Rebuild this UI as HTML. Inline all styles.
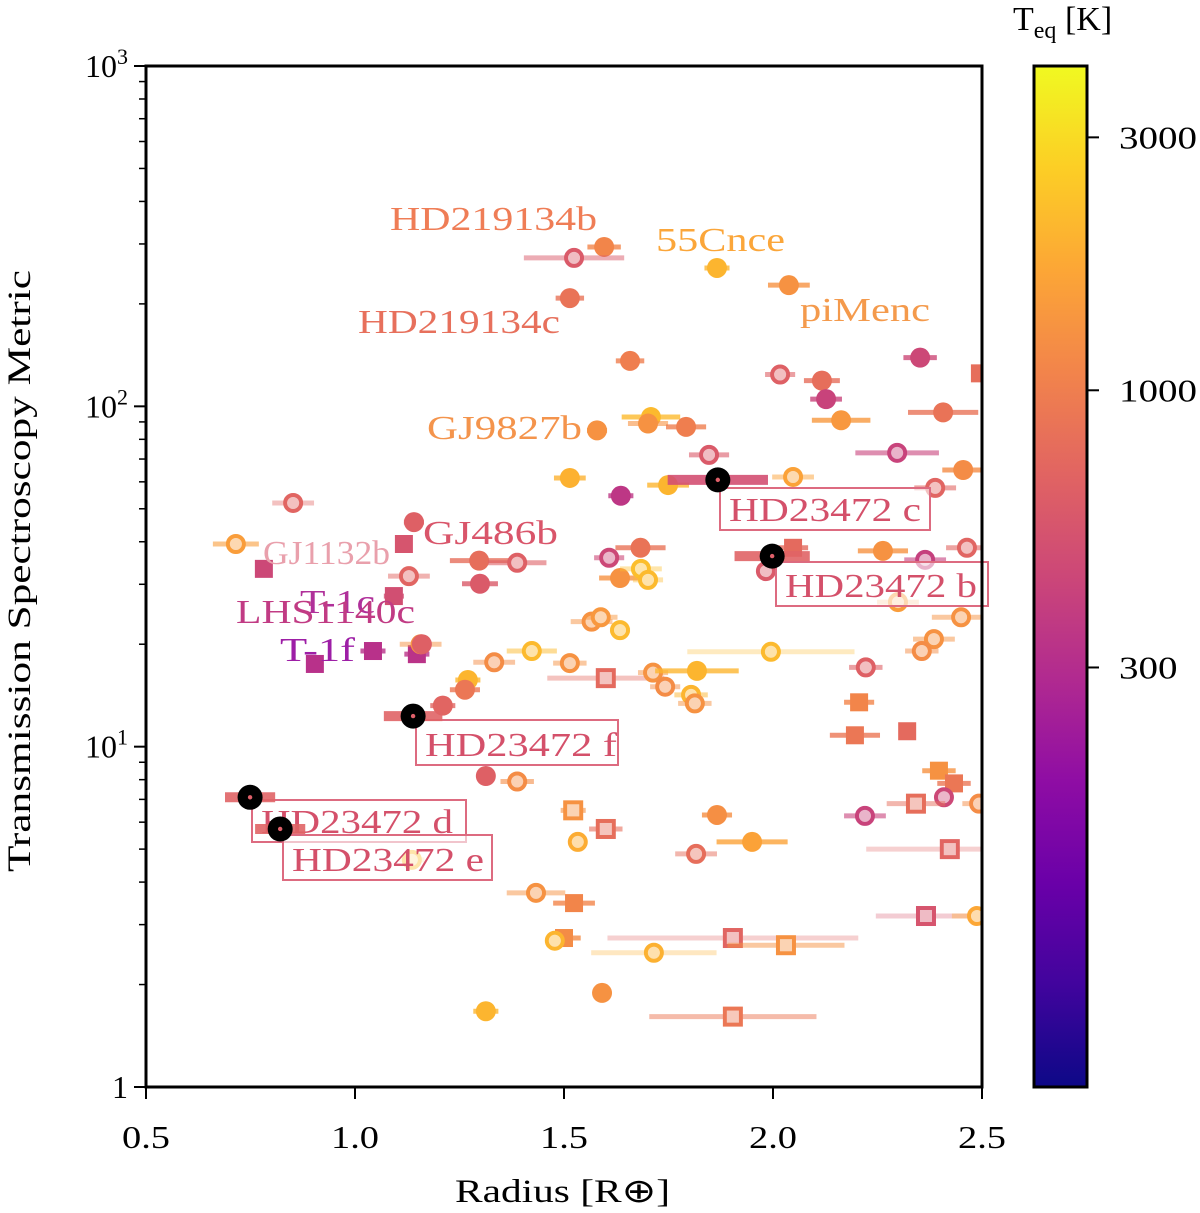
<!DOCTYPE html>
<html><head><meta charset="utf-8"><style>
html,body{margin:0;padding:0;background:#fff}
svg{display:block}
text{font-family:"Liberation Serif",serif}
</style></head><body>
<svg id="c" width="1200" height="1213" viewBox="0 0 1200 1213" xmlns="http://www.w3.org/2000/svg">
<defs>
<linearGradient id="plasma" x1="0" y1="1" x2="0" y2="0">
<stop offset="0" stop-color="#0d0887"/><stop offset="0.1" stop-color="#41049d"/><stop offset="0.2" stop-color="#6a00a8"/><stop offset="0.3" stop-color="#8f0da4"/><stop offset="0.4" stop-color="#b12a90"/><stop offset="0.5" stop-color="#cc4778"/><stop offset="0.6" stop-color="#e16462"/><stop offset="0.7" stop-color="#f2844b"/><stop offset="0.8" stop-color="#fca636"/><stop offset="0.9" stop-color="#fcce25"/><stop offset="1" stop-color="#f0f921"/>
</linearGradient>
<clipPath id="clip"><rect x="146" y="66" width="836" height="1021"/></clipPath>
</defs>
<g id="marks" clip-path="url(#clip)"></g>
<g id="ann"></g>
<g id="hd" clip-path="url(#clip)"></g>
<g id="axes"></g>
</svg>
<script>
const radius=[1.596,1.524,1.514,1.866,2.038,1.658,2.352,2.017,2.117,2.127,2.407,1.708,1.701,1.792,2.163,1.579,1.847,2.297,2.048,2.455,1.514,1.749,1.636,2.388,0.852,1.141,1.117,0.715,1.683,1.608,1.297,1.388,1.299,1.129,1.093,0.782,0.904,1.043,1.148,1.983,2.048,2.263,2.364,2.464,1.634,1.684,1.701,2.299,2.45,1.566,1.588,1.634,1.157,1.16,1.423,1.514,1.333,1.270,1.263,1.210,1.600,1.713,1.742,1.804,1.818,1.813,1.995,2.222,2.385,2.356,2.206,2.196,2.321,1.313,1.388,1.522,1.600,1.533,1.866,1.950,1.816,2.220,2.397,2.433,2.409,2.342,2.423,2.493,1.433,1.524,1.500,1.478,1.904,2.031,1.715,2.366,2.488,1.591,1.313,1.904,1.136,2.495];
const tsm=[294,273,208,255,227,136,139,124,119,105,96,93,89,87,91,85,72,73,62,65,61.6,58.7,54.6,57.6,52,45.7,39.4,39.4,38.4,35.9,35.2,34.7,30.1,31.7,27.7,33.3,17.5,19.1,18.7,32.8,38.4,37.6,35.4,38.4,31.3,33.3,30.9,26.6,24,23.3,24,22,20,20,19.1,17.6,17.7,15.7,14.7,13.2,15.9,16.5,15,14.2,16.7,13.4,19,17.1,20.7,19.1,13.5,10.8,11.1,8.2,7.9,6.5,5.73,5.25,6.3,5.25,4.84,6.26,8.5,7.8,7.1,6.8,5.0,6.8,3.72,3.47,2.74,2.69,2.74,2.61,2.48,3.18,3.18,1.89,1.67,1.61,4.65,125];
const radiusErr=[0.04,0.12,0.034,0.03,0.05,0.034,0.04,0.036,0.043,0.038,0.084,0.07,0.048,0.048,0.07,0.024,0.048,0.1,0.05,0.05,0.038,0.05,0.03,0.05,0.05,0.024,0.02,0.055,0.06,0.036,0.07,0.07,0.043,0.05,0.024,0,0,0.03,0.03,0,0.036,0.06,0.05,0.05,0.05,0.05,0.036,0.05,0.07,0.05,0.04,0.024,0.05,0.02,0.06,0.04,0.05,0.03,0.036,0.03,0.14,0.036,0.036,0.04,0.1,0.04,0.2,0.04,0.05,0.04,0.036,0.06,0,0,0.04,0.03,0.04,0,0.036,0.085,0.05,0.05,0.04,0.04,0,0.07,0.2,0.04,0.07,0.05,0.04,0.02,0.3,0.14,0.15,0.12,0.06,0,0.03,0.2,0.03,0];
const teq=[1100,600,850,2000,1300,1000,450,650,800,420,850,2100,1300,1000,1400,1300,600,420,1600,1200,1900,2000,350,700,700,650,550,1500,850,450,800,650,600,700,500,450,320,320,330,600,750,1300,400,700,1300,2200,2100,1500,1300,1300,1400,2100,1300,650,2100,1300,1200,2000,900,700,750,1300,1200,2000,2000,1300,2100,650,1300,1200,1100,900,750,650,1200,1300,800,1800,1250,1600,800,420,1300,900,450,800,700,1200,1300,1100,1200,2000,700,1300,1900,550,1700,1300,2000,900,2200,800];
const marker=["o","h","o","o","o","o","o","h","o","o","o","o","o","o","o","o","h","h","h","o","o","o","o","h","h","o","s","h","o","h","o","h","o","h","s","s","s","s","s","h","s","o","h","h","o","h","h","h","h","h","h","h","h","o","h","h","h","o","o","o","hs","h","h","h","o","h","h","h","h","h","s","s","s","o","h","hs","hs","h","o","o","h","h","s","s","h","hs","hs","h","h","s","s","h","hs","hs","h","hs","h","o","o","hs","h","s"];
const errAlpha=[0.8,0.5,0.8,0.8,0.8,0.8,0.8,0.6,0.8,0.8,0.8,0.8,0.6,0.8,0.8,0.8,0.6,0.6,0.5,0.8,0.8,0.8,0.8,0.6,0.4,0.8,0.8,0.6,0.8,0.6,0.8,0.6,0.8,0.5,0.8,0.8,0.8,0.8,0.8,0.6,0.8,0.8,0.6,0.6,0.8,0.4,0.4,0.4,0.5,0.5,0.5,0.5,0.5,0.8,0.5,0.5,0.5,0.8,0.8,0.8,0.4,0.5,0.5,0.5,0.8,0.5,0.3,0.6,0.5,0.5,0.8,0.8,0.8,0.8,0.6,0.6,0.6,0.5,0.8,0.8,0.5,0.6,0.8,0.8,0.6,0.5,0.3,0.5,0.5,0.8,0.8,0.5,0.3,0.5,0.3,0.3,0.4,0.8,0.8,0.5,0.3,0.8];
const hdNames=["HD23472 c","HD23472 b","HD23472 f","HD23472 d","HD23472 e"];
const hdRadius=[1.868,1.998,1.139,0.749,0.821];
const hdTsm=[60.8,36.3,12.3,7.1,5.73];
const hdErr=[0.12,0.09,0.07,0.06,0.06];
const xTicks=[0.5,1.0,1.5,2.0,2.5];
const xTickLabels=["0.5","1.0","1.5","2.0","2.5"];
const cbTicks=[3000,1000,300];

const NS="http://www.w3.org/2000/svg";
const X0=146,X1=982,Y0=1087,Y1=66;
const xs=v=>X0+(v-0.5)/2*(X1-X0);
const ys=v=>Y0-Math.log10(v)/3*(Y0-Y1);
const TMIN=48.5,TMAX=4090;
const cbY=t=>1087-(Math.log10(t)-Math.log10(TMIN))/(Math.log10(TMAX)-Math.log10(TMIN))*1021;
const stops=[[13,8,135],[65,4,157],[106,0,168],[143,13,164],[177,42,144],[204,71,120],[225,100,98],[242,132,75],[252,166,54],[252,206,37],[240,249,33]];
function cmap(t){let u=(Math.log10(t)-Math.log10(TMIN))/(Math.log10(TMAX)-Math.log10(TMIN));u=Math.max(0,Math.min(1,u))*10;const i=Math.min(9,Math.floor(u)),f=u-i;const a=stops[i],b=stops[i+1];return `rgb(${a.map((v,k)=>Math.round(v+(b[k]-v)*f)).join(",")})`;}
function el(tag,attrs,parent){const e=document.createElementNS(NS,tag);for(const k in attrs)e.setAttribute(k,attrs[k]);parent.appendChild(e);return e;}
const M=document.getElementById("marks"),A=document.getElementById("axes"),N=document.getElementById("ann"),H=document.getElementById("hd");

radius.forEach((r,i)=>{
  const col=cmap(teq[i]),cx=xs(r),cy=ys(tsm[i]);
  const g=el("g",{},M);
  
  
  if(radiusErr[i]>0){el("line",{x1:xs(r-radiusErr[i]),x2:xs(r+radiusErr[i]),y1:cy,y2:cy,stroke:col,"stroke-width":5,"stroke-opacity":errAlpha[i]},g);}
  const m=marker[i];
  if(m==="o")el("circle",{cx,cy,r:10,fill:col},g);
  else if(m==="h"){el("circle",{cx,cy,r:8,fill:"#fff",stroke:col,"stroke-width":4},g);el("circle",{cx,cy,r:6,fill:col,"fill-opacity":0.4},g);}
  else if(m==="s")el("rect",{x:cx-9,y:cy-9,width:18,height:18,fill:col},g);
  else{el("rect",{x:cx-8,y:cy-8,width:16,height:16,fill:"#fff",stroke:col,"stroke-width":4},g);el("rect",{x:cx-6,y:cy-6,width:12,height:12,fill:col,"fill-opacity":0.4},g);}
});

const labels=[["HD219134b",390,230,"#ef7d56",207],["55Cnce",656,251,"#fba63a",129],["HD219134c",358,333,"#e7705c",202],["piMenc",800,321,"#f49a4c",130],["GJ9827b",427,439,"#f4944c",155],["GJ486b",423,544,"#d9556a",135],["GJ1132b",263,564,"#e9a0ac",127],["T-1c",300,613,"#b0309a",75],["LHS1140c",236,623,"#c13b84",179],["T-1f",280,661,"#9d1ea6",75]];
labels.forEach(l=>{const t=el("text",{x:l[1],y:l[2],"font-size":34,fill:l[3],textLength:l[4],lengthAdjust:"spacingAndGlyphs"},N);t.textContent=l[0];

});

const boxPos=[[720,488,210,42],[776,562,212,44],[416,720,202,45],[252,800,214,42],[283,835,209,45]];
hdRadius.forEach((r,i)=>{
  const b=boxPos[i];
  const bg=el("g",{},N);
  
  
  el("rect",{x:b[0],y:b[1],width:b[2],height:b[3],fill:"#fff","fill-opacity":0.6,stroke:"#dd6b80","stroke-width":2},bg);
  const t=el("text",{x:b[0]+9,y:b[1]+b[3]-9,"font-size":34,fill:"#d4506a",textLength:192,lengthAdjust:"spacingAndGlyphs"},bg);t.textContent=hdNames[i];
});
hdRadius.forEach((r,i)=>{
  const cx=xs(r),cy=ys(hdTsm[i]);
  const g=el("g",{},H);
  
  
  const col=i===0?"#d34f72":"#e06466";
  el("line",{x1:xs(r-hdErr[i]),x2:xs(r+hdErr[i]),y1:cy,y2:cy,stroke:col,"stroke-width":10,"stroke-opacity":0.9},g);
  el("circle",{cx,cy,r:12.5,fill:"#000"},g);
  el("circle",{cx,cy,r:2.2,fill:"#e0606a"},g);
});

const fr=el("rect",{x:X0,y:Y1,width:X1-X0,height:Y0-Y1,fill:"none",stroke:"#000","stroke-width":3},A);


xTicks.forEach((v,i)=>{el("line",{x1:xs(v),x2:xs(v),y1:Y0,y2:Y0+12,stroke:"#000","stroke-width":2},A);
const t=el("text",{x:xs(v),y:1148,"font-size":32,"text-anchor":"middle",textLength:48,lengthAdjust:"spacingAndGlyphs"},A);t.textContent=xTickLabels[i];

});
for(let d=0;d<3;d++){for(let k=2;k<=9;k++){const y=ys(k*Math.pow(10,d));el("line",{x1:X0-7,x2:X0,y1:y,y2:y,stroke:"#000","stroke-width":1.5},A);}}
[1,10,100,1000].forEach((v,i)=>{const y=ys(v);el("line",{x1:X0-12,x2:X0,y1:y,y2:y,stroke:"#000","stroke-width":2},A);
const t=el("text",{x:X0-18,y:y+11,"font-size":32,"text-anchor":"end"},A);


if(i===0)t.textContent="1";else{t.textContent="10";const s=el("tspan",{dy:-13,"font-size":22},t);s.textContent=String(i);}});
const xt=el("text",{x:455,y:1202,"font-size":33,textLength:215,lengthAdjust:"spacingAndGlyphs"},A);xt.textContent="Radius [R⊕]";


const yt=el("text",{x:0,y:0,"font-size":33,transform:"translate(30,872) rotate(-90)",textLength:602,lengthAdjust:"spacingAndGlyphs"},A);yt.textContent="Transmission Spectroscopy Metric";



const cb=el("rect",{x:1034,y:66,width:53,height:1021,fill:"url(#plasma)",stroke:"#000","stroke-width":3},A);


cbTicks.forEach(v=>{const y=cbY(v);el("line",{x1:1087,x2:1099,y1:y,y2:y,stroke:"#000","stroke-width":2},A);
const t=el("text",{x:1119,y:y+11,"font-size":32,textLength:(String(v).length)*19.5,lengthAdjust:"spacingAndGlyphs"},A);t.textContent=String(v);

});
const ct=el("text",{x:1013,y:30,"font-size":34},A);ct.textContent="T";


const s1=el("tspan",{dy:8,"font-size":24},ct);s1.textContent="eq";
const s2=el("tspan",{dy:-8},ct);s2.textContent=" [K]";
</script>
</body></html>
